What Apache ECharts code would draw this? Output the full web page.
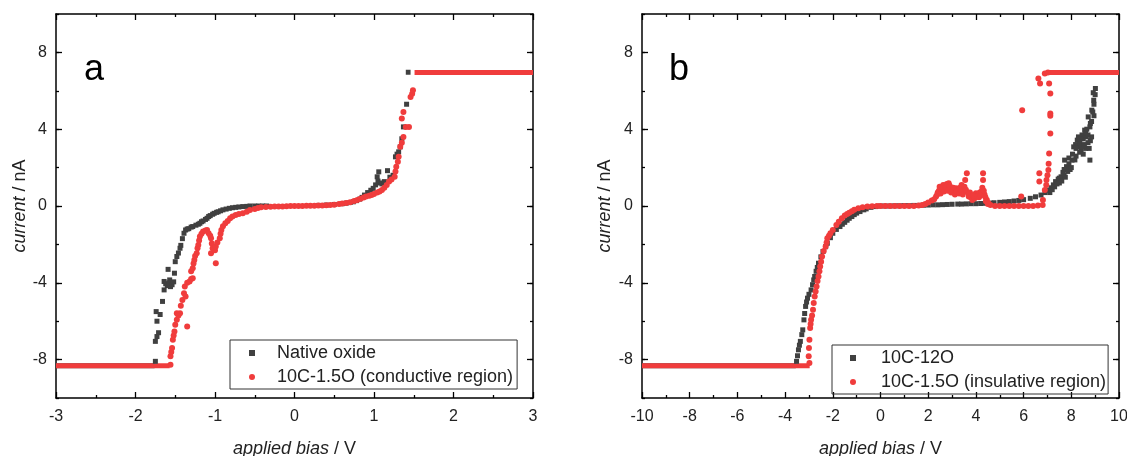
<!DOCTYPE html>
<html>
<head>
<meta charset="utf-8">
<script src="https://cdn.jsdelivr.net/npm/echarts@6/dist/echarts.min.js"></script>
<style>
html,body{margin:0;padding:0;background:#fff;}
#chart{width:1127px;height:456px;}
</style>
</head>
<body>
<div id="chart"></div>
<script>
// ---------- Panel a data ----------
const xTicksA = [-3, -2, -1, 0, 1, 2, 3];
const yTicks = [-8, -4, 0, 4, 8];
const yRange = [-10, 10];
const nameNativeA = 'Native oxide';
const nameRedA = '10C-1.5O (conductive region)';
const nativeSatA = [[-3, -8.32], [-1.76, -8.32]];
const nativeTopA = [[1.40, 6.97], [1.46, 6.97]];
const nativeA = [
  [-1.75,-8.09],[-1.75,-7.05],[-1.73,-6.8],[-1.71,-6.6],[-1.73,-6.0],[-1.69,-5.65],[-1.74,-5.5],
  [-1.66,-4.97],[-1.64,-4.37],[-1.62,-4.05],[-1.6,-4.15],[-1.58,-4.0],[-1.56,-4.2],[-1.54,-4.1],
  [-1.52,-3.95],[-1.64,-3.93],[-1.57,-3.85],[-1.59,-3.3],[-1.51,-3.5],[-1.5,-2.9],[-1.48,-2.63],
  [-1.46,-2.45],[-1.44,-2.2],[-1.43,-2.05],[-1.41,-1.7],[-1.39,-1.42],[-1.37,-1.25],[-1.35,-1.2],
  [-1.33,-1.18],[-1.3,-1.1],[-1.28,-1.07],[-1.24,-1.0],[-1.21,-0.95],[-1.19,-0.9],[-1.17,-0.82],
  [-1.15,-0.78],[-1.12,-0.7],[-1.1,-0.64],[-1.08,-0.55],[-1.06,-0.5],[-1.03,-0.43],[-1.01,-0.38],
  [-0.98,-0.33],[-0.96,-0.3],[-0.93,-0.25],[-0.9,-0.2],[-0.86,-0.16],[-0.82,-0.12],[-0.78,-0.09],
  [-0.74,-0.07],[-0.7,-0.05],[-0.65,-0.03],[-0.6,-0.02],[-0.56,0],[-0.5,0],[-0.45,0],[-0.4,0],
  [-0.35,0],[0.3,0.03],[0.4,0.05],[0.5,0.08],[0.6,0.12],[0.65,0.15],[0.7,0.18],[0.74,0.22],
  [0.78,0.28],[0.82,0.36],[0.85,0.45],[0.88,0.57],[0.92,0.7],[0.96,0.82],[0.99,0.92],[1.02,1.1],
  [1.04,1.52],[1.06,1.78],[1.05,1.3],[1.08,1.2],[1.1,1.15],[1.13,1.27],[1.17,1.84],[1.2,1.5],
  [1.24,1.6],[1.27,2.56],[1.29,2.7],[1.31,2.82],[1.33,3.08],[1.35,3.5],[1.37,4.12],[1.41,5.3]
];
const redSatA = [[-3, -8.32], [-1.57, -8.32]];
const redTopA = [[1.51, 6.95], [3, 6.95]];
const redA = [
  [-1.56,-8.27],[-1.56,-7.83],[-1.55,-7.6],[-1.54,-7.4],[-1.53,-6.97],[-1.52,-6.75],[-1.51,-6.53],
  [-1.5,-6.19],[-1.48,-5.93],[-1.48,-5.58],[-1.46,-5.7],[-1.44,-5.58],[-1.43,-5.2],[-1.41,-4.89],
  [-1.39,-4.54],[-1.37,-4.71],[-1.35,-6.27],[-1.38,-4.19],[-1.35,-4.0],[-1.32,-3.93],[-1.3,-3.8],
  [-1.28,-3.76],[-1.3,-3.4],[-1.28,-3.24],[-1.27,-3.0],[-1.26,-2.81],[-1.25,-2.6],[-1.23,-2.46],
  [-1.22,-2.2],[-1.21,-2.03],[-1.2,-1.8],[-1.19,-1.59],[-1.17,-1.45],[-1.15,-1.33],[-1.12,-1.28],
  [-1.1,-1.25],[-1.08,-1.42],[-1.06,-1.55],[-1.05,-1.68],[-1.04,-1.95],[-1.03,-2.2],[-1.05,-2.46],
  [-0.99,-2.98],[-1.0,-2.3],[-0.99,-2.11],[-0.97,-1.9],[-0.94,-1.68],[-0.93,-1.45],[-0.92,-1.25],
  [-0.9,-1.05],[-0.87,-0.9],[-0.84,-0.78],[-0.81,-0.64],[-0.78,-0.55],[-0.74,-0.47],[-0.7,-0.42],
  [-0.65,-0.38],[-0.6,-0.3],[-0.56,-0.21],[-0.5,-0.15],[-0.46,-0.1],[-0.42,-0.07],[-0.36,-0.05],
  [-0.3,-0.04],[-0.25,-0.03],[-0.2,-0.03],[-0.15,-0.02],[-0.1,-0.01],[-0.05,0],[0,0],[0.05,0],
  [0.1,0],[0.15,0.01],[0.2,0.01],[0.25,0.01],[0.3,0.02],[0.35,0.03],[0.4,0.04],[0.45,0.05],
  [0.5,0.07],[0.56,0.1],[0.6,0.13],[0.65,0.16],[0.7,0.2],[0.75,0.26],[0.79,0.31],[0.83,0.38],
  [0.87,0.44],[0.9,0.5],[0.94,0.54],[0.97,0.57],[1.0,0.62],[1.04,0.7],[1.07,0.76],[1.1,0.83],
  [1.13,0.95],[1.16,1.1],[1.19,1.27],[1.22,1.38],[1.26,1.52],[1.27,1.8],[1.28,2.05],[1.3,2.3],
  [1.31,2.56],[1.33,3.08],[1.35,3.3],[1.37,3.6],[1.4,4.12],[1.44,4.12],[1.35,4.56],[1.37,4.9],
  [1.46,5.68],[1.48,5.85],[1.49,6.03]
];

// ---------- Panel b data ----------
const xTicksB = [-10, -8, -6, -4, -2, 0, 2, 4, 6, 8, 10];
const nameDarkB = '10C-12O';
const nameRedB = '10C-1.5O (insulative region)';
const darkSatB = [[-10, -8.32], [-3.55, -8.32]];
const darkB = [
  [-3.52,-8.09],[-3.48,-7.8],[-3.44,-7.49],[-3.4,-7.25],[-3.36,-7.05],[-3.3,-6.7],[-3.26,-6.45],
  [-3.21,-5.93],[-3.18,-5.6],[-3.14,-5.23],[-3.1,-5.0],[-3.06,-4.8],[-3.0,-4.6],[-2.91,-4.37],
  [-2.85,-4.1],[-2.8,-3.85],[-2.76,-3.67],[-2.7,-3.4],[-2.65,-3.2],[-2.6,-2.98],[-2.5,-2.65],
  [-2.41,-2.37],[-2.3,-2.12],[-2.23,-1.94],[-2.1,-1.65],[-2.0,-1.42],[-1.85,-1.22],[-1.7,-1.07],
  [-1.6,-0.95],[-1.5,-0.85],[-1.4,-0.74],[-1.31,-0.64],[-1.2,-0.55],[-1.1,-0.45],[-1.0,-0.37],
  [-0.86,-0.29],[-0.7,-0.2],[-0.6,-0.15],[-0.4,-0.07],[-0.2,-0.03],
  [0,0],[0.2,0],[0.4,0],[0.6,0.01],[0.8,0.01],[1.0,0.02],[1.2,0.02],[1.4,0.03],[1.6,0.03],
  [1.8,0.04],[2.0,0.05],[2.2,0.06],[2.4,0.06],[2.6,0.07],[2.8,0.08],[3.0,0.09],[3.24,0.1],
  [3.4,0.1],[3.6,0.11],[3.8,0.12],[4.0,0.12],[4.2,0.13],[4.4,0.14],[4.6,0.15],[4.76,0.17],
  [5.0,0.19],[5.2,0.21],[5.4,0.23],[5.6,0.26],[5.8,0.29],[6.0,0.33],[6.28,0.4],[6.5,0.48],
  [6.73,0.57],[6.9,0.7],[7.04,0.83],[7.15,0.95],[7.25,1.1],[7.34,1.27],[7.45,1.4],[7.57,1.52],
  [7.65,1.75],[7.8,2.05],[7.72,2.39],[7.9,2.2],[8.03,2.39],[8.1,3.08],[8.18,3.2],[8.25,3.43],
  [8.3,3.1],[8.41,2.91],[8.5,3.5],[8.56,3.95],[8.63,3.6],[8.7,3.3],[8.78,2.39],[8.78,4.12],
  [8.71,4.64],[8.8,4.3],[8.86,4.99],[8.94,5.51],[9.01,6.12],[8.95,4.7],[7.5,1.2],[7.7,1.6],
  [7.95,1.9],[8.2,2.6],[8.35,2.8],[8.45,3.7],[8.6,3.0],[8.85,3.6],
  [7.1,0.7],[7.2,0.85],[7.3,1.0],[7.4,1.15],[7.5,1.45],[7.6,1.3],[7.7,1.9],[7.75,1.5],
  [7.85,1.8],[7.9,2.5],[8.0,2.0],[8.05,2.7],[8.15,2.4],[8.2,3.0],[8.3,3.6],[8.35,3.3],
  [8.4,3.5],[8.45,3.1],[8.5,2.7],[8.55,3.2],[8.6,3.8],[8.65,4.0],[8.7,3.7],[8.75,3.0],
  [8.8,3.4],[8.85,4.4],[8.9,4.9],[8.95,5.3],[9.0,5.8],[8.92,5.9]
];
const redSatB = [[-10, -8.32], [-2.97, -8.32]];
const redTopB = [[7.05, 6.95], [10, 6.95]];
const redB = [
  [-2.98,-8.18],[-3.01,-7.83],[-3.0,-7.4],[-2.98,-6.97],[-2.95,-6.36],[-2.93,-6.15],[-2.91,-5.93],
  [-2.87,-5.7],[-2.83,-5.41],[-2.8,-5.05],[-2.76,-4.71],[-2.72,-4.45],[-2.68,-4.19],[-2.64,-3.9],
  [-2.6,-3.67],[-2.56,-3.4],[-2.53,-3.15],[-2.49,-2.9],[-2.45,-2.63],[-2.38,-2.35],[-2.3,-2.11],
  [-2.26,-1.9],[-2.23,-1.68],[-2.16,-1.55],[-2.1,-1.42],[-2.0,-1.25],[-1.85,-0.99],[-1.75,-0.82],
  [-1.62,-0.64],[-1.5,-0.5],[-1.4,-0.42],[-1.31,-0.35],[-1.2,-0.27],[-1.1,-0.2],[-0.93,-0.12],
  [-0.75,-0.06],[-0.55,-0.03],
  [-0.35,-0.01],[-0.15,0],[0,0],[0.2,0],[0.4,0],[0.6,0],[0.8,0],[1.0,0],[1.2,0],[1.4,0],[1.6,0.02],
  [1.75,0.05],[1.88,0.1],[2.0,0.18],[2.15,0.28],[2.33,0.49],[2.4,0.7],[2.48,1.0],[2.55,0.85],
  [2.63,1.09],[2.7,0.95],[2.78,1.15],[2.86,1.18],[2.92,0.9],[3.01,0.83],[3.08,0.7],[3.17,0.92],
  [3.25,0.8],[3.33,0.95],[3.4,1.09],[3.48,0.8],[3.55,1.35],[3.62,1.7],[3.66,0.7],[3.7,0.49],
  [3.78,0.45],[3.85,0.31],[3.92,0.5],[4.0,0.66],[4.1,0.6],[4.16,0.7],[4.23,0.75],[4.3,1.7],
  [4.3,1.35],[4.36,0.6],[4.4,0.45],[4.46,0.31],[4.52,0.15],[4.61,0.05],[4.8,0],[5.0,0],[5.2,0],
  [5.4,0],[5.6,0],[5.8,0],[5.9,0.49],[5.94,4.99],[6.0,0],[6.2,0],[6.4,0],[6.6,0.02],[6.8,0.05],
  [6.66,1.7],[6.66,1.27],[6.81,0.31],[6.89,0.83],[6.96,1.35],[7.04,1.87],[7.07,2.74],[7.12,3.78],
  [7.12,4.82],[7.12,4.7],[7.12,5.86],[7.07,6.38],[6.62,6.64],[6.69,6.38],[6.89,6.9],[7.02,6.95],
  [6.95,1.1],[7.0,1.6],[7.05,2.2],
  [2.25,0.35],[2.38,0.6],[2.45,0.8],[2.52,0.65],[2.58,0.9],[2.66,0.75],[2.74,1.0],[2.82,0.8],
  [2.9,1.05],[2.96,0.7],[3.05,0.95],[3.12,0.6],[3.2,0.75],[3.3,0.65],[3.38,0.85],[3.45,0.6],
  [3.52,1.0],[3.58,0.85],[3.75,0.7],[3.88,0.55],[3.95,0.4],[4.05,0.5],[4.13,0.45],[4.2,0.55],
  [4.27,0.95],[4.33,0.8],[4.42,0.25],[4.5,0.1]
];

const FONT = '"Liberation Sans", Arial, sans-serif';
const DARK = '#404040';
const RED = '#f03c3c';
const LINE = { color: '#000', width: 1.5 };
const TICKLINE = { color: '#000', width: 1.3 };

function xAxisPair(grid, ticks) {
  const min = ticks[0], max = ticks[ticks.length - 1], interval = ticks[1] - ticks[0];
  const base = {
    type: 'value', gridIndex: grid, min: min, max: max, interval: interval,
    axisLine: { onZero: false, lineStyle: LINE },
    axisTick: { inside: true, length: 6, lineStyle: TICKLINE },
    minorTick: { show: true, splitNumber: 2, length: 3, lineStyle: TICKLINE },
    splitLine: { show: false }
  };
  return [
    Object.assign({}, base, {
      position: 'bottom',
      axisLabel: { color: '#222', fontSize: 16, fontFamily: FONT, margin: 11 },
      name: '{i|applied bias} / V', nameLocation: 'middle', nameGap: 42,
      nameTextStyle: { color: '#222', fontSize: 18, fontFamily: FONT,
        rich: { i: { fontStyle: 'italic', fontSize: 18, fontFamily: FONT, color: '#222' } } }
    }),
    Object.assign({}, base, { position: 'top', axisLabel: { show: false } })
  ];
}
// Each side of the y range gets a main axis (labels + long ticks at yTicks)
// and an overlay axis carrying the short ticks every 2 units.
function yAxes(grid, margin, gap) {
  const main = {
    type: 'value', gridIndex: grid, min: yRange[0], max: yRange[1], interval: 2,
    axisLine: { onZero: false, lineStyle: LINE },
    axisTick: { inside: true, length: 6, lineStyle: TICKLINE, customValues: yTicks },
    splitLine: { show: false }
  };
  const minor = {
    type: 'value', gridIndex: grid, min: yRange[0], max: yRange[1], interval: 2,
    axisLine: { show: false, onZero: false },
    axisTick: { inside: true, length: 3, lineStyle: TICKLINE },
    axisLabel: { show: false }, splitLine: { show: false }
  };
  return [
    Object.assign({}, main, {
      position: 'left',
      axisLabel: { color: '#222', fontSize: 16, fontFamily: FONT, margin: margin, customValues: yTicks,
        formatter: v => (yTicks.indexOf(v) >= 0 ? String(v) : '') },
      name: '{i|current} / nA', nameLocation: 'middle', nameGap: gap, nameRotate: 90,
      nameTextStyle: { color: '#222', fontSize: 18, fontFamily: FONT,
        rich: { i: { fontStyle: 'italic', fontSize: 18, fontFamily: FONT, color: '#222' } } }
    }),
    Object.assign({}, main, { position: 'right', axisLabel: { show: false } }),
    Object.assign({}, minor, { position: 'left' }),
    Object.assign({}, minor, { position: 'right' })
  ];
}

const xA = xAxisPair(0, xTicksA), xB = xAxisPair(1, xTicksB);
const yA = yAxes(0, 9, 27), yB = yAxes(1, 9, 28);

function sat(name, data, color, xi, yi) {
  return { name: name, type: 'line', data: data, xAxisIndex: xi, yAxisIndex: yi, symbol: 'none',
    lineStyle: { color: color, width: 5 }, silent: true, z: 2 };
}
function sc(name, data, color, sym, size, xi, yi, z) {
  return { name: name, type: 'scatter', data: data, xAxisIndex: xi, yAxisIndex: yi,
    symbol: sym, symbolSize: size, itemStyle: { color: color, opacity: 1 }, z: z };
}
function legendFor(left, top, names, padLeft, textPad, padRight) {
  return { left: left, top: top, orient: 'vertical', itemWidth: 6, itemHeight: 6, itemGap: 6,
    padding: [4, padRight, 3, padLeft], borderColor: '#333', borderWidth: 1,
    textStyle: { fontSize: 18, fontFamily: FONT, color: '#222', padding: [0, 0, 0, textPad] },
    data: [{ name: names[0], icon: 'rect' }, { name: names[1], icon: 'circle' }] };
}

const chart = echarts.init(document.getElementById('chart'), null, { renderer: 'canvas' });
chart.setOption({
  animation: false,
  backgroundColor: '#fff',
  grid: [
    { left: 56, top: 14, width: 477, height: 384, outerBoundsMode: 'none', containLabel: false },
    { left: 642, top: 14, width: 477, height: 384, outerBoundsMode: 'none', containLabel: false }
  ],
  xAxis: [xA[0], xA[1], xB[0], xB[1]],
  yAxis: [yA[0], yA[1], yA[2], yA[3], yB[0], yB[1], yB[2], yB[3]],
  legend: [
    legendFor(230, 340, [nameNativeA, nameRedA], 19, 17, 4),
    legendFor(832, 345, [nameDarkB, nameRedB], 18, 20, 2)
  ],
  graphic: [
    { type: 'text', left: 84, top: 52, style: { text: 'a', fontSize: 36, fontFamily: FONT, fill: '#000' } },
    { type: 'text', left: 669, top: 52, style: { text: 'b', fontSize: 36, fontFamily: FONT, fill: '#000' } }
  ],
  series: [
    sat('satA-dark', nativeSatA, DARK, 0, 0),
    sat('topA-dark', nativeTopA, DARK, 0, 0),
    sc(nameNativeA, nativeA, DARK, 'rect', 5, 0, 0, 3),
    sat('satA-red', redSatA, RED, 0, 0),
    sat('topA-red', redTopA, RED, 0, 0),
    sc(nameRedA, redA, RED, 'circle', 6, 0, 0, 4),
    sat('satB-dark', darkSatB, DARK, 2, 4),
    sc(nameDarkB, darkB, DARK, 'rect', 5, 2, 4, 3),
    sat('satB-red', redSatB, RED, 2, 4),
    sat('topB-red', redTopB, RED, 2, 4),
    sc(nameRedB, redB, RED, 'circle', 6, 2, 4, 4)
  ]
});
</script>
</body>
</html>
